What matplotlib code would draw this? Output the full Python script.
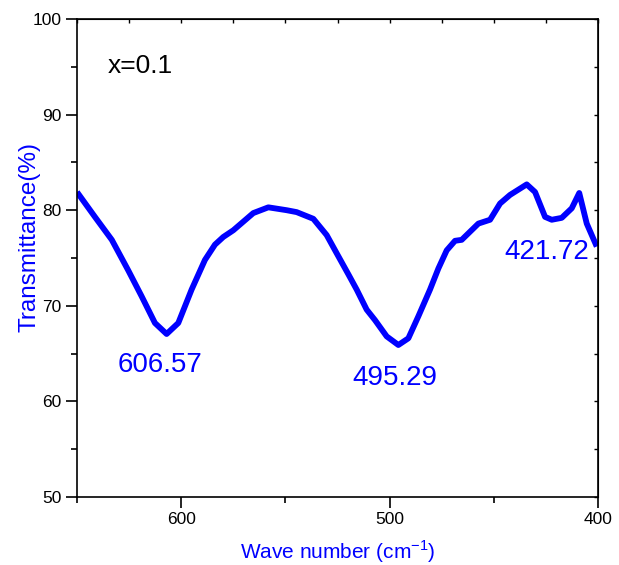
import matplotlib
matplotlib.use("Agg")
import matplotlib.pyplot as plt
from matplotlib.ticker import MultipleLocator, NullFormatter

plt.rcParams['font.family'] = ['Liberation Sans', 'DejaVu Sans']
plt.rcParams['mathtext.fontset'] = 'custom'
plt.rcParams['mathtext.rm'] = 'Liberation Sans'

wavenumber = [650, 641.4, 633.3, 625.4, 619, 612.6, 607, 601.4, 595, 588.6, 583.8,
              579.8, 575, 565.4, 558.2, 549.4, 544.6, 536.6, 530.2, 525.4, 519.8,
              515.8, 511, 507, 501.4, 495.8, 491, 486.2, 480.6, 476.6, 472.6, 468.6,
              465.4, 457.4, 451.8, 447, 442.2, 434.2, 430.2, 425.4, 422.2, 417.4,
              412.6, 409, 405.4, 400.6]
transmittance = [81.9, 79.3, 76.9, 73.7, 71.0, 68.2, 67.05, 68.2, 71.7, 74.8, 76.4,
                 77.2, 77.9, 79.7, 80.3, 80.0, 79.8, 79.1, 77.4, 75.5, 73.3,
                 71.7, 69.6, 68.5, 66.8, 65.9, 66.6, 68.9, 71.7, 73.9, 75.8, 76.8,
                 76.9, 78.6, 79.0, 80.7, 81.6, 82.7, 81.9, 79.3, 79.0, 79.2,
                 80.2, 81.8, 78.6, 76.2]
peak_labels = ["606.57", "495.29", "421.72"]
peak_label_x = [610.2, 497.4, 424.5]
peak_label_y = [63.8, 62.4, 75.6]
sample_label = "x=0.1"

fig = plt.figure(figsize=(6.19, 5.65), dpi=100)
ax = fig.add_axes([77/619, 1-497/565, (598-77)/619, (497-19)/565])
ax.plot(wavenumber, transmittance, color='#0000FF', lw=4.2, solid_joinstyle='round',
        solid_capstyle='butt')
ax.set_xlim(650, 400)
ax.set_ylim(50, 100)

ax.xaxis.set_major_locator(MultipleLocator(100))
ax.xaxis.set_minor_locator(MultipleLocator(50))
ax.yaxis.set_major_locator(MultipleLocator(10))
ax.yaxis.set_minor_locator(MultipleLocator(5))
ax.tick_params(which='major', direction='out', length=8, width=1.2, labelsize=12.5, pad=3)
ax.tick_params(which='minor', direction='out', length=4, width=1.2)
for s in ax.spines.values():
    s.set_linewidth(1.2)

top = ax.secondary_xaxis('top')
top.xaxis.set_major_locator(MultipleLocator(25))
top.xaxis.set_major_formatter(NullFormatter())
top.tick_params(direction='in', length=3, width=1.0)
right = ax.secondary_yaxis('right')
right.yaxis.set_major_locator(MultipleLocator(5))
right.yaxis.set_major_formatter(NullFormatter())
right.tick_params(direction='in', length=3, width=1.0)

ax.set_xlabel("Wave number (cm$^{\\mathregular{-1}}$)", color='#0000FF', fontsize=15, labelpad=8)
ax.set_ylabel("Transmittance(%)", color='#0000FF', fontsize=17.5)
ax.yaxis.set_label_coords(-0.071, 0.544)

for t, x, y in zip(peak_labels, peak_label_x, peak_label_y):
    ax.text(x, y, t, color='#0000FF', fontsize=20, ha='center', va='center')
ax.text(619.8, 95.1, sample_label, color='black', fontsize=19, ha='center', va='center')

fig.savefig("out.png", dpi=100)
